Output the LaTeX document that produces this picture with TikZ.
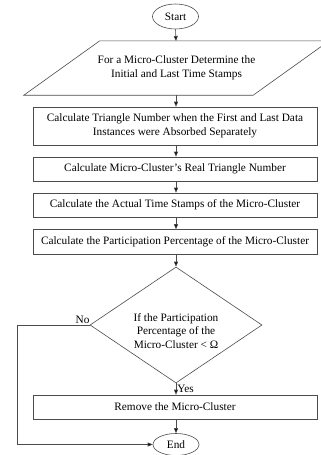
\documentclass[tikz,border=0pt]{standalone}
\usepackage{fontspec}
\setmainfont{Liberation Serif}
\usetikzlibrary{shapes.geometric,arrows.meta}
\begin{document}
\begin{tikzpicture}[x=1pt,y=-1pt,
  every node/.style={font=\fontsize{11.3}{13.5}\selectfont, text=black},
  line/.style={draw=black!70, line width=0.6pt},
  arr/.style={line, -{Triangle[length=5pt,width=4pt,fill=black]}},
  procbox/.style={line, rectangle, minimum width=284pt, inner sep=0pt, align=center},
  term/.style={line, ellipse, minimum width=46pt, inner sep=0pt}]
\clip (0,0) rectangle (321,455);
\fill[white] (0,0) rectangle (321,455);
\node[term, minimum height=25pt] (start) at (175.5,16.5) {Start};
\node[align=center, minimum width=229pt, minimum height=54pt, inner sep=0pt] (para) at (176.5,68)
  {For a Micro-Cluster Determine the\\Initial and Last Time Stamps};
\draw[line] ([xshift=38pt]para.north west) -- ([xshift=38pt]para.north east)
  -- ([xshift=-38pt]para.south east) -- ([xshift=-38pt]para.south west) -- cycle;
\node[procbox, minimum height=38pt] (b1) at (175,126)
  {Calculate Triangle Number when the First and Last Data\\Instances were Absorbed Separately};
\node[procbox, minimum height=24pt] (b2) at (175,169) {Calculate Micro-Cluster's Real Triangle Number};
\node[procbox, minimum height=24pt] (b3) at (175,205) {Calculate the Actual Time Stamps of the Micro-Cluster};
\node[procbox, minimum height=25pt] (b4) at (175,242) {Calculate the Participation Percentage of the Micro-Cluster};
\node[line, diamond, minimum width=172pt, minimum height=116pt, inner sep=0pt] (dec) at (176,325) {};
\node[align=center, inner sep=0pt] (dtext) at (176,331)
  {If the Participation\\Percentage of the\\Micro-Cluster < Ω};
\node[procbox, minimum height=24pt] (rm) at (175,407) {Remove the Micro-Cluster};
\node[term, minimum height=22pt] (end) at (176,444.5) {End};
\coordinate (ptop) at (176,41);
\coordinate (pbot) at (176,95);
\coordinate (c1) at (17,325);
\coordinate (c2) at (17,444.5);
\draw[arr] (start.south) -- (ptop);
\draw[arr] (pbot) -- (b1.north -| pbot);
\draw[arr] (b1.south -| pbot) -- (b2.north -| pbot);
\draw[arr] (b2.south -| pbot) -- (b3.north -| pbot);
\draw[arr] (b3.south -| pbot) -- (b4.north -| pbot);
\draw[arr] (b4.south -| dec.north) -- (dec.north);
\draw[arr] (dec.south) -- (rm.north -| dec.south) node[pos=0.45, anchor=west, inner sep=1pt] {Yes};
\draw[arr] (rm.south -| end.north) -- (end.north);
\draw[line] (dec.west) -- (c1);
\draw[arr] (c1) -- (c2) -- (end.west);
\node[anchor=south east, inner sep=1pt] at ([xshift=1pt]dec.west) {No};
\end{tikzpicture}
\end{document}
